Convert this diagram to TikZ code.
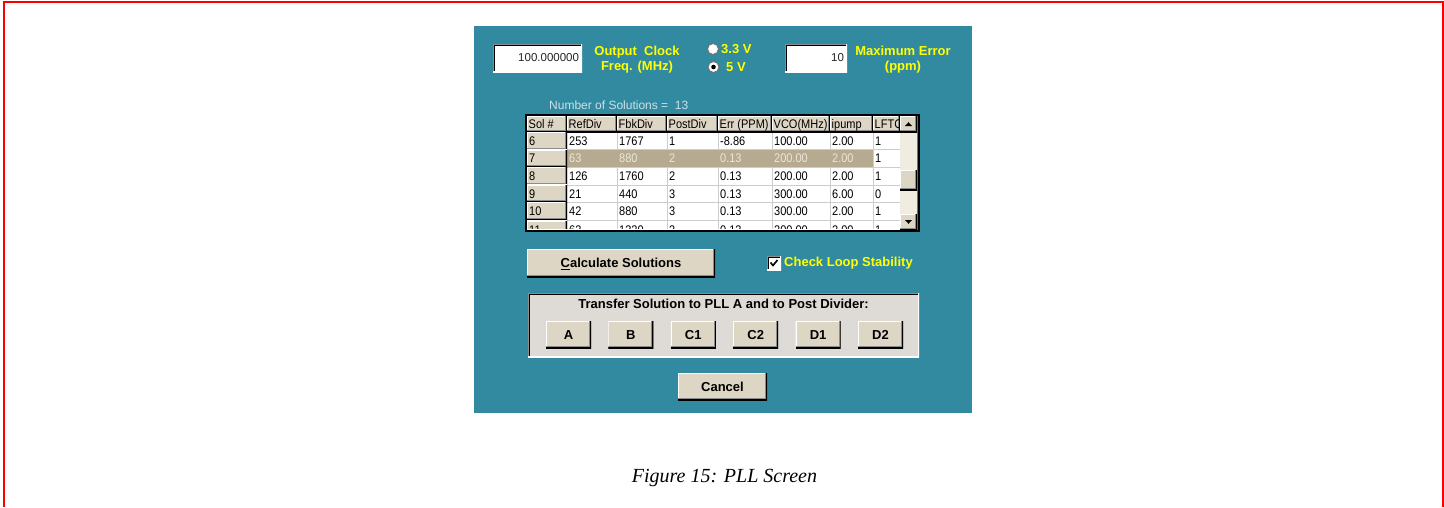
\documentclass[tikz,border=0pt]{standalone}
\usepackage{fontspec}
\setmainfont{Liberation Sans}
\newfontfamily\gridfont[FakeStretch=0.88]{Liberation Sans}
\newfontfamily\captionfont{Liberation Serif}
\usetikzlibrary{positioning}
\definecolor{panelteal}{RGB}{50,138,160}
\definecolor{uiyellow}{RGB}{255,255,0}
\definecolor{btnface}{RGB}{222,214,196}
\definecolor{selrow}{RGB}{182,170,144}
\definecolor{seltext}{RGB}{236,230,216}
\definecolor{groupface}{RGB}{222,218,214}
\definecolor{infotext}{RGB}{205,225,232}
\definecolor{gridgray}{RGB}{205,205,205}
\definecolor{trackface}{RGB}{240,236,226}
\tikzset{
    %Define 3D edges
    raised/.style={
           path picture={
             \draw[white, line width=2pt] (path picture bounding box.south west) |- (path picture bounding box.north east);
             \draw[black!45, line width=4pt] (path picture bounding box.south west) -| (path picture bounding box.north east);
             \draw[black, line width=2pt] (path picture bounding box.south west) -| (path picture bounding box.north east);}},
    sunken/.style={
           path picture={
             \draw[black, line width=4pt] (path picture bounding box.south west) |- (path picture bounding box.north east);
             \draw[black!45, line width=2pt] (path picture bounding box.south west) |- (path picture bounding box.north east);
             \draw[white, line width=2pt] (path picture bounding box.south west) -| (path picture bounding box.north east);}},
    %Define style for buttons
    btn/.style={
           rectangle,
           raised,
           fill=btnface,
           inner sep=0pt,
           minimum width=45pt,
           minimum height=27pt,
           text height=9.3pt,
           text depth=0pt,
           font=\bfseries\fontsize{13}{15}\selectfont},
    %Define style for entry boxes
    entrybox/.style={
           rectangle,
           sunken,
           fill=white,
           inner sep=3pt,
           text=black!85,
           font=\fontsize{11.5}{13}\selectfont},
    uilabel/.style={
           text=uiyellow,
           inner sep=0pt,
           align=center,
           font=\bfseries\fontsize{13}{15}\selectfont},
    cell/.style={
           anchor=west,
           inner sep=0pt,
           text height=9pt,
           text depth=0pt,
           font=\gridfont\fontsize{12.5}{14}\selectfont},
    radio/.style={
           circle,
           fill=white,
           draw=black!55,
           line width=1pt,
           minimum size=11pt,
           inner sep=0pt}
}
\begin{document}
\begin{tikzpicture}[x=1pt,y=-1pt,node distance=17pt]
\useasboundingbox (0,0) rectangle (1444,507);
\draw[red, line width=1.8pt] (3.8,507) -- (3.8,2) -- (1443,2) -- (1443,507);
\fill[panelteal] (474,25.5) rectangle (972,413);

 %top row
\node[entrybox, minimum height=28pt, text width=83pt, align=right] (freqbox) at (537.5,58) {100.000000};
\node[uilabel] (freqlabel) at (637,60) {Output\ \ Clock\\Freq. (MHz)};
\node[radio] (radio33) at (713,49) {};
\node[radio] (radio5) at (713.5,67) {};
\fill (radio5.center) circle (2.3pt);
\node[uilabel, anchor=west] (v33) at (721,49) {3.3 V};
\node[uilabel, anchor=west] (v5) at (726,67.5) {5 V};
\node[entrybox, minimum height=28pt, text width=56pt, align=right] (errbox) at (816,58) {10};
\node[uilabel] (errlabel) at (903,60) {Maximum Error\\(ppm)};
\node[cell, text=infotext, font=\fontsize{12}{14}\selectfont] (numsol) at (549,105) {Number of Solutions =\ \ 13};

 %solutions table
\fill[white] (527,116) rectangle (900,230);
\begin{scope}
\clip (527,116) rectangle (900,228.5);
\foreach \yy in {149.6,167.2,184.8,202.4,220}
  \draw[gridgray] (567,\yy) -- (900,\yy);
\foreach \xx in {617,667,718,772,830,873}
  \draw[gridgray] (\xx,132) -- (\xx,230);
\fill[selrow] (567,149.6) rectangle (873,167.2);
\foreach \xa/\xb/\head [count=\n] in {527/567/Sol \#,567/617/RefDiv,617/667/FbkDiv,667/718/PostDiv,718/772/Err (PPM),772/830/VCO(MHz),830/873/ipump,873/900/LFTC}{
  \path[raised, fill=btnface] (\xa,116) rectangle (\xb,132);
  \node[cell] (head\n) at ({\xa+1.5},124) {\head};
}
\foreach \yy/\va/\vb/\vc/\vd/\ve/\vf/\vg [count=\r from 6] in {
    140.8/253/1767/1/-8.86/100.00/2.00/1,
    158.4/63/880/2/0.13/200.00/2.00/1,
    176/126/1760/2/0.13/200.00/2.00/1,
    193.6/21/440/3/0.13/300.00/6.00/0,
    211.2/42/880/3/0.13/300.00/2.00/1,
    229.5/63/1320/3/0.13/300.00/2.00/1}{
  \path[raised, fill=btnface] (527,{\yy-8.8}) rectangle (567,{\yy+8.8});
  \node[cell] (sol\r) at (529,\yy) {\r};
  \foreach \xx/\v [count=\k] in {569/\va,619/\vb,669/\vc,720/\vd,774/\ve,832/\vf,875/\vg}{
    \ifnum\r=7\relax \ifnum\k<7\relax \def\tc{seltext}\else\def\tc{black}\fi\else\def\tc{black}\fi
    \node[cell, text=\tc] (cell-\r-\k) at (\xx,\yy) {\v};
  }
}
\end{scope}
 %scrollbar
\fill[trackface] (900,116) rectangle (917,230);
\node[btn, minimum width=17pt, minimum height=16pt] (sbup) at (908.5,124) {};
\node[btn, minimum width=17pt, minimum height=20pt] (sbthumb) at (908.5,180) {};
\node[btn, minimum width=17pt, minimum height=16pt] (sbdown) at (908.5,222) {};
\fill ([shift={(-3.5pt,-2pt)}]sbup.center) -- ([shift={(3.5pt,-2pt)}]sbup.center) -- ([shift={(0pt,1.8pt)}]sbup.center) -- cycle;
\fill ([shift={(-3.5pt,2pt)}]sbdown.center) -- ([shift={(3.5pt,2pt)}]sbdown.center) -- ([shift={(0pt,-1.8pt)}]sbdown.center) -- cycle;
\draw[black, line width=1.5pt] (526.2,115.2) rectangle (918.8,230.8);

 %buttons
\node[btn, minimum width=188pt, minimum height=28pt] (calc) at (621,263) {\underline{C}alculate Solutions};
\node[entrybox, minimum size=14pt, inner sep=0pt] (chk) at (774,263) {};
\draw[line width=1.6pt] ([shift={(-3.5pt,0.5pt)}]chk.center) -- ([shift={(-1pt,-2.5pt)}]chk.center) -- ([shift={(3.5pt,3pt)}]chk.center);
\node[uilabel, anchor=west] (chklabel) at (784,263) {Check Loop Stability};

\path[sunken, fill=groupface] (528,293) rectangle (919,357);
\node[uilabel, text=black] (transfer) at (723.5,304) {Transfer Solution to PLL A and to Post Divider:};
\node[btn] (btnA) at (568.5,334.5) {A};
\node[btn, right=of btnA] (btnB) {B};
\node[btn, right=of btnB] (btnC1) {C1};
\node[btn, right=of btnC1] (btnC2) {C2};
\node[btn, right=of btnC2] (btnD1) {D1};
\node[btn, right=of btnD1] (btnD2) {D2};

\node[btn, minimum width=89pt] (cancel) at (722.5,386.5) {Cancel};

\node[font=\captionfont\itshape\fontsize{20}{24}\selectfont, anchor=base] (caption) at (724.5,482) {Figure 15: PLL Screen};
\end{tikzpicture}
\end{document}
